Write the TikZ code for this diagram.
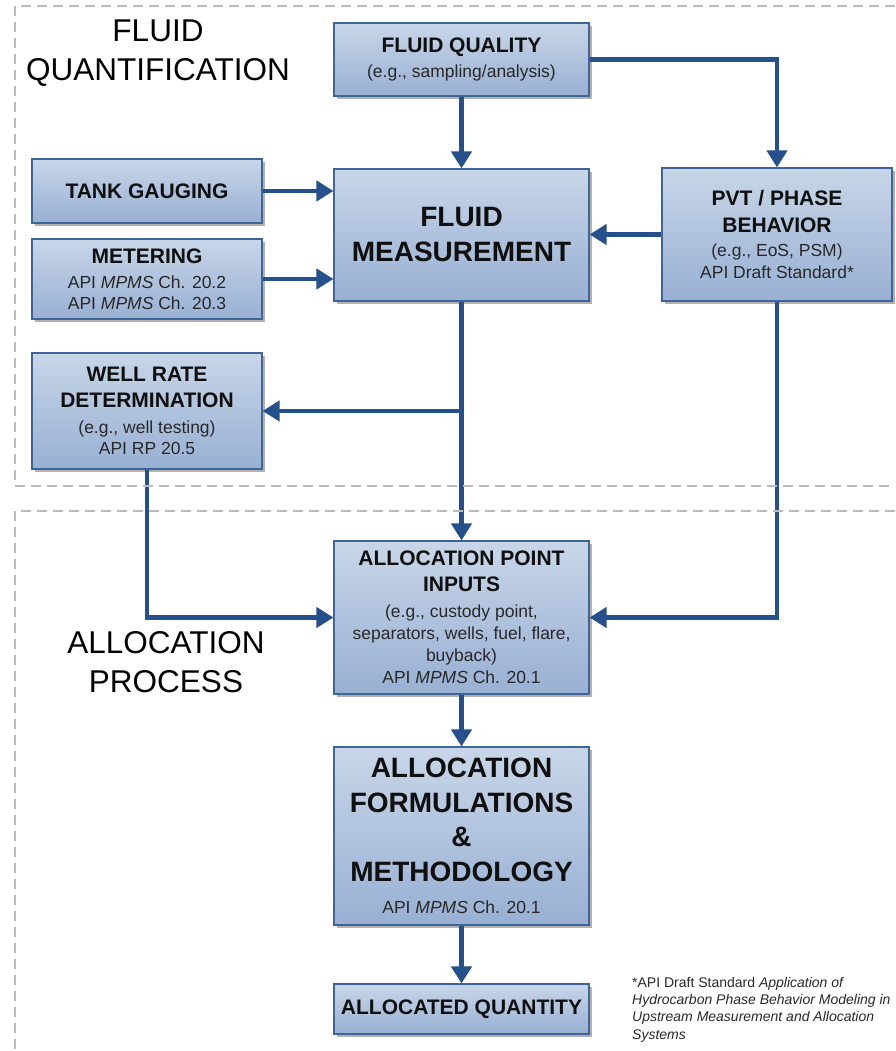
\documentclass[tikz,border=0pt]{standalone}
\usepackage{fontspec}
\setmainfont{Liberation Sans}
\usetikzlibrary{arrows.meta,shadows,calc}
\definecolor{arrowblue}{RGB}{37,80,140}
\definecolor{boxedge}{RGB}{62,100,152}
\definecolor{boxtop}{RGB}{200,214,232}
\definecolor{boxbot}{RGB}{152,176,211}
\definecolor{dashgray}{RGB}{187,187,187}
\definecolor{txt}{RGB}{15,15,15}
\definecolor{subtxt}{RGB}{40,40,40}
\newcommand\bfl{\fontsize{21}{22}\selectfont\bfseries}
\newcommand\rgl{\fontsize{17.5}{22}\selectfont\mdseries\color{subtxt}}
\begin{document}
\begin{tikzpicture}[x=1pt,y=-1pt,
  box/.style={draw=boxedge, line width=1.1pt, top color=boxtop, bottom color=boxbot,
    drop shadow={shadow xshift=3pt, shadow yshift=-3pt, fill=black, opacity=0.3},
    inner sep=0pt, align=center, text=txt, font=\fontsize{17.5}{22}\selectfont},
  arr/.style={draw=arrowblue, line width=4.5pt, -{Triangle[length=17pt,width=20pt]}},
  region/.style={draw=dashgray, line width=2pt, dash pattern=on 10pt off 6pt},
  biglabel/.style={align=center, text=black, font=\fontsize{31.5}{39}\selectfont}]
\useasboundingbox (0,0) rectangle (895,1051);

\node[box, minimum width=255pt, minimum height=73pt] (fq) at (461.5,59.5)
  {{\bfl FLUID QUALITY}\\[3pt]{\rgl (e.g., sampling/analysis)}};
\node[box, minimum width=230pt, minimum height=64pt] (tg) at (147,191)
  {{\bfl TANK GAUGING}};
\node[box, minimum width=230pt, minimum height=80pt] (met) at (147,279)
  {{\bfl METERING}\\[3pt]{\rgl API \textit{MPMS} Ch. 20.2}\\[-1pt]{\rgl API \textit{MPMS} Ch. 20.3}};
\node[box, minimum width=255pt, minimum height=132pt, font=\fontsize{28}{35}\selectfont\bfseries] (fm) at (461.5,235)
  {FLUID\\MEASUREMENT};
\node[box, minimum width=230pt, minimum height=133pt] (pvt) at (777,234.5)
  {{\bfl PVT / PHASE}\\[5pt]{\bfl BEHAVIOR}\\[2pt]{\rgl (e.g., EoS, PSM)}\\{\rgl API Draft Standard*}};
\node[box, minimum width=230pt, minimum height=116pt] (wr) at (147,411)
  {{\bfl WELL RATE}\\[4pt]{\bfl DETERMINATION}\\[4pt]{\rgl (e.g., well testing)}\\[-1pt]{\rgl API RP 20.5}};
\node[box, minimum width=255pt, minimum height=153pt] (api) at (461.5,617.5)
  {{\bfl ALLOCATION POINT}\\[4pt]{\bfl INPUTS}\\[4pt]{\rgl (e.g., custody point,}\\{\rgl separators, wells, fuel, flare,}\\{\rgl buyback)}\\{\rgl API \textit{MPMS} Ch. 20.1}};
\node[box, minimum width=255pt, minimum height=178pt, font=\fontsize{28}{34.5}\selectfont\bfseries] (af) at (461.5,836)
  {ALLOCATION\\FORMULATIONS\\\&\\METHODOLOGY\\[-2pt]{\rgl API \textit{MPMS} Ch. 20.1}};
\node[box, minimum width=255pt, minimum height=50pt] (aq) at (461.5,1009)
  {{\bfl ALLOCATED QUANTITY}};

\draw[arr] (fq.south) -- (fm.north);
\draw[arr] (fq.east) -| (pvt.north);
\draw[arr] (tg.east) -- (tg.east -| fm.west);
\draw[arr] (met.east) -- (met.east -| fm.west);
\draw[arr] (pvt.west) -- (pvt.west -| fm.east);
\draw[arr] (fm.south) -- (api.north);
\coordinate (br) at (wr.east -| fm.south);
\draw[arr] (br) -- (wr.east);
\draw[arr] (wr.south) |- (api.west);
\draw[arr] (pvt.south) |- (api.east);
\draw[arr] (api.south) -- (af.north);
\draw[arr] (af.south) -- (aq.north);

\draw[region] (895,6) -- (15,6) -- (15,486) -- (895,486);
\draw[region] (895,511) -- (15,511) -- (15,1051);

\node[biglabel] (lq) at (158,53) {FLUID\\QUANTIFICATION};
\node[biglabel] (lp) at (166,662) {ALLOCATION\\PROCESS};

\node[anchor=north west, align=left, inner sep=0pt, text=subtxt,
  font=\fontsize{14}{17.3}\selectfont] (fn) at (632,977)
  {*API Draft Standard \textit{Application of}\\\textit{Hydrocarbon Phase Behavior Modeling in}\\\textit{Upstream Measurement and Allocation}\\\textit{Systems}};
\end{tikzpicture}
\end{document}
